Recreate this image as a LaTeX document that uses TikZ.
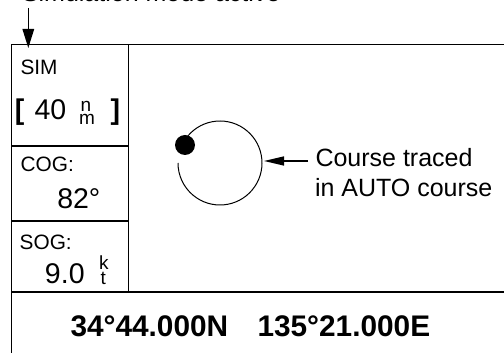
\documentclass[tikz,border=0pt]{standalone}
\usepackage{fontspec}
\setmainfont{Liberation Sans}
\usetikzlibrary{arrows.meta,calc}
\begin{document}
\begin{tikzpicture}[x=1pt,y=1pt,
  txt/.style={inner sep=0pt,outer sep=0pt,anchor=base west},
  lab/.style={txt,font=\fontsize{20.8}{24}\selectfont},
  val/.style={txt,font=\fontsize{28.5}{32}\selectfont},
  sub/.style={txt,font=\fontsize{19}{22}\selectfont},
  note/.style={txt,font=\fontsize{25}{30}\selectfont},
  postext/.style={txt,font=\bfseries\fontsize{29.8}{34}\selectfont},
  frame/.style={line width=1.6pt},
  divider/.style={line width=1.3pt},
  pointer/.style={line width=1.4pt,-{Triangle[length=19pt,width=11.5pt]}},
  pointer2/.style={line width=1.4pt,-{Triangle[length=20pt,width=9pt]}}]
\useasboundingbox (0,0) rectangle (504,353);
\clip (0,0) rectangle (504,353);
% frame
\draw[frame] (11.5,-20) -- (11.5,308.5) -- (530,308.5);
\draw[divider] (11.5,61) -- (530,61);
\draw[divider] (128.7,308.5) -- (128.7,61);
\draw[divider] (11.5,207) -- (128.7,207);
\draw[divider] (11.5,132) -- (128.7,132);
% top annotation
\node[note] (simnote) at (22,351) {Simulation mode active};
\coordinate (simtop) at (28.3,345);
\coordinate (simtip) at (28.3,305);
\draw[pointer] (simtop) -- (simtip);
% left panel
\node[lab] (sim) at (20.5,278) {SIM};
\node[val,font=\bfseries\fontsize{28.5}{32}\selectfont] (lbr) at (15,233) {[};
\node[val] (range) at (34.5,233) {40};
\node[sub] (unitn) at (80.5,241) {n};
\node[sub] (unitm) at (79,228) {m};
\node[val,font=\bfseries\fontsize{28.5}{32}\selectfont] (rbr) at (110.5,233) {]};
\node[lab] (cog) at (20.7,181) {COG:};
\node[val] (cogval) at (57.3,144) {82°};
\node[lab] (sog) at (19.7,103) {SOG:};
\node[val] (sogval) at (45,69) {9.0};
\node[sub] (unitk) at (99,83) {k};
\node[sub] (unitt) at (100.5,68) {t};
% course circle
\coordinate (cc) at (220,190);
\draw[line width=1pt] ($(cc)+(140:42)$) arc[start angle=140,end angle=-180,radius=42];
\fill (185,208) circle[radius=10];
\coordinate (cstart) at (308,192);
\coordinate (ctip) at (264,192);
\draw[pointer2] (cstart) -- (ctip);
\node[note] (cnote1) at (315.5,186) {Course traced};
\node[note] (cnote2) at (315,156) {in AUTO course};
% position
\node[postext] (lat) at (70.5,16) {34°44.000N};
\node[postext] (lon) at (257.5,16) {135°21.000E};
\end{tikzpicture}
\end{document}
